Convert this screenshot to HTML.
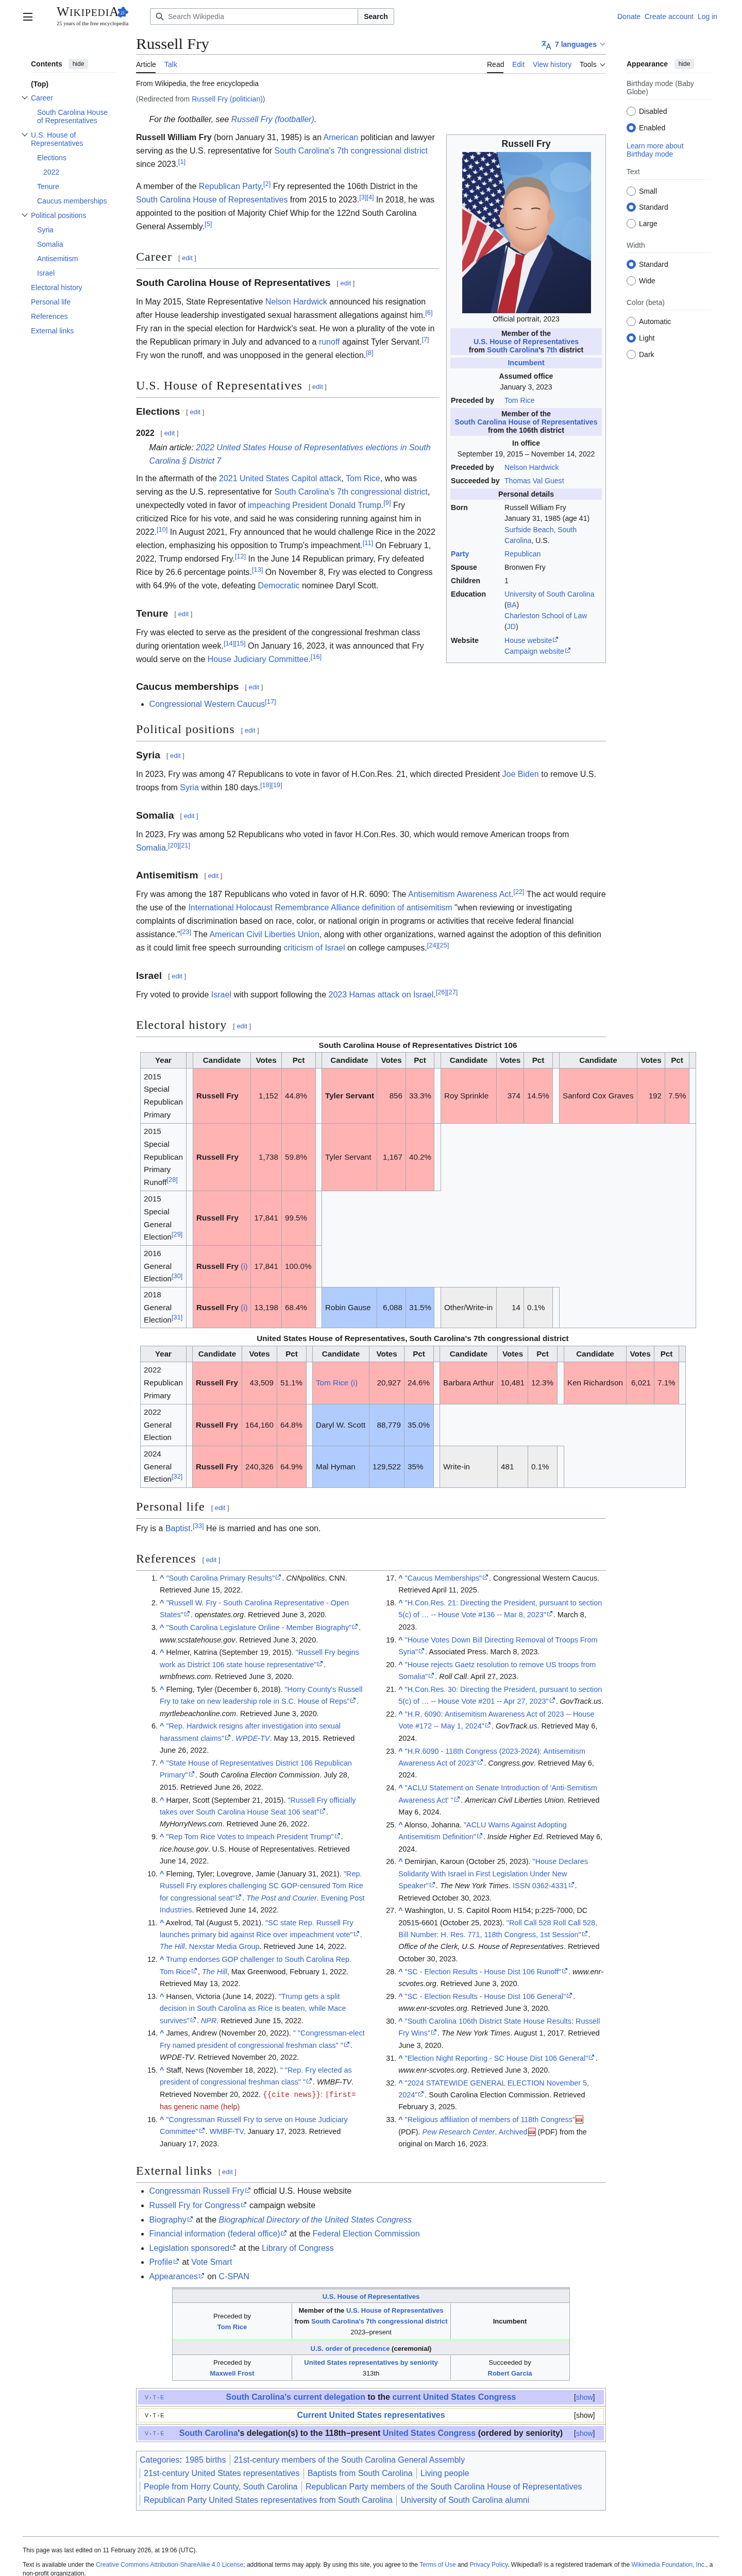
<!DOCTYPE html>
<html lang="en">
<head>
<meta charset="utf-8">
<title>Russell Fry - Wikipedia</title>
<style>
*{box-sizing:border-box}
html,body{margin:0;padding:0;background:#fff;height:5149px;overflow:hidden}
body{will-change:transform;font-family:"Liberation Sans",sans-serif;color:#202122;width:1440px;height:5149px;position:relative;overflow:hidden}
a{color:#3366cc;text-decoration:none}
.A{position:absolute;white-space:nowrap}
/* header */
#burger i{position:absolute;left:45px;width:18px;height:2px;background:#202122}
.wm{position:absolute;left:110px;top:8px;font-family:"Liberation Serif",serif;color:#202122;letter-spacing:0.85px;white-space:nowrap;line-height:30px}
.wm .big{font-size:25.6px}
.wm .sm{font-size:19.7px}
.tag{position:absolute;left:110px;top:40px;font-family:"Liberation Serif",serif;font-size:10.5px;color:#202122}
#search{position:absolute;left:291px;top:16px;width:404px;height:32px;border:1px solid #a2a9b1;border-radius:2px 0 0 2px;background:#fff}
#search span{position:absolute;left:34px;top:7px;font-size:14px;color:#72777d}
#search svg{position:absolute;left:10px;top:7px}
#sbtn{position:absolute;left:694px;top:16px;width:71px;height:32px;border:1px solid #a2a9b1;border-radius:0 2px 2px 0;font-weight:bold;font-size:14px;text-align:center;line-height:30px;color:#202122;background:#f8f9fa}
.u{position:absolute;top:24px;font-size:14px;white-space:nowrap}
/* toc */
.toc{position:absolute;font-size:14px;line-height:16px;white-space:nowrap}
.chev{position:absolute;width:8px;height:8px;border-right:1.6px solid #202122;border-bottom:1.6px solid #202122;transform:rotate(45deg)}
.hidebtn{position:absolute;height:20px;background:#eaecf0;border-radius:2px;font-size:12px;line-height:20px;text-align:center;color:#202122}
.sep{position:absolute;height:1px;background:#eaecf0}
.radio{position:absolute;width:18px;height:18px;border-radius:50%;border:1px solid #72777d;background:#fff}
.radio.on{border:5px solid #3366cc}
/* main */
h1{font-family:"Liberation Serif",serif;font-weight:normal;font-size:29.5px;margin:0;position:absolute;left:264px;top:67px;line-height:37px;white-space:nowrap;transform:scaleX(1.05);transform-origin:0 0}
.hl{position:absolute;height:1px;background:#a2a9b1}
.tab{position:absolute;font-size:14px;white-space:nowrap;top:117px}
#content{position:absolute;left:264px;top:150px;width:912px;font-size:16px;line-height:26px}
#content p{margin:7.4px 0 16.6px}
h2{font-family:"Liberation Serif",serif;font-weight:normal;font-size:24px;line-height:33px;margin:6.8px 0 3.2px;border-bottom:1px solid #a2a9b1;padding:12.25px 0 4.2px;overflow:hidden}
h3{font-size:19.2px;font-weight:bold;line-height:30.72px;margin:3.2px 0 0;padding-top:8.9px;overflow:hidden}
h4{font-size:16px;font-weight:bold;line-height:26px;margin:4.45px 0 0;padding-top:8px;overflow:hidden}
.ed{font-size:12.8px;font-weight:normal;font-family:"Liberation Sans",sans-serif;color:#54595d;margin-left:12px;vertical-align:1px;letter-spacing:0}
h2{letter-spacing:1px}
sup{font-size:12.8px;line-height:1;vertical-align:super}
.hat{font-style:italic;padding-left:25.6px;margin:3.6px 0 8px;line-height:26px}
#infobox{float:right;position:relative;width:310px;height:1026px;border:1px solid #a2a9b1;background:#f8f9fa;margin:8px 0 16px 14px;font-size:14.08px;line-height:16px}
.ib{position:absolute;white-space:nowrap;line-height:16px}
.ib.c{left:0;right:0;text-align:center}
.ib.b{font-weight:bold}
.ibh{position:absolute;left:7px;right:7px;background:#e6e6fa}
.ext{display:inline-block;width:10px;height:10px;margin-left:2px;vertical-align:-1px;background:none;position:relative}
.ext::before{content:"";position:absolute;left:0;top:2px;width:6px;height:6px;border:1px solid #3366cc;border-top-color:transparent;border-right-color:transparent}
.ext::after{content:"";position:absolute;left:4px;top:0;width:6px;height:6px;border-top:1px solid #3366cc;border-right:1px solid #3366cc}
ul.bul{margin:3.5px 0 0 0;padding-left:25.6px;list-style:disc}
#elect{position:absolute;left:-264px;top:-150px;width:0;height:0}
.tc{position:absolute;box-sizing:border-box;font-size:15.2px;line-height:24.7px}
.tcin{position:absolute;left:0;right:0;top:0;bottom:0;display:flex;align-items:center;white-space:nowrap}
.tcin.b{font-weight:bold}
.tcap{position:absolute;text-align:center;font-weight:bold;font-size:15.2px;line-height:24px;white-space:nowrap}
#content2{position:absolute;left:264px;top:2896px;width:912px;font-size:16px;line-height:26px}
#content2 p{margin:7.4px 0 16.6px}
ol.refs{font-size:14.4px;line-height:23.4px;margin:2.8px 0 10.2px 46px;padding:0;column-count:2;column-gap:14.4px;margin-left:0;padding-left:0}
ol.refs li{margin:0 0 1.35px 46px;break-inside:avoid-column}
i.x{display:inline-block;width:13px;height:10px;position:relative;vertical-align:0px;margin-left:1px}
i.x::before{content:"";position:absolute;left:2px;top:1px;width:8px;height:8px;border-left:1.2px solid #3366cc;border-bottom:1.2px solid #3366cc;border-top:1.2px solid #3366cc;border-right:1.2px solid transparent;box-sizing:border-box;clip-path:polygon(0 0,45% 0,45% 30%,0 30%,0 100%,100% 100%,100% 55%,70% 55%,70% 100%,0 100%)}
i.x::after{content:"";position:absolute;left:6px;top:0px;width:6px;height:6px;border-top:1.2px solid #3366cc;border-right:1.2px solid #3366cc;box-sizing:border-box;background:linear-gradient(135deg,transparent 45%,#3366cc 45%,#3366cc 60%,transparent 60%)}
i.pdf{display:inline-block;width:15px;height:16px;vertical-align:-3px;margin-left:1px;background:#fff;border:1.5px solid #b32424;position:relative}
i.pdf::after{content:"PDF";position:absolute;left:0;top:5px;width:12px;height:6px;background:#c33;color:#fff;font-size:5px;line-height:6px;font-style:normal;font-weight:bold;text-align:center}
.cserr{color:#b32424}
.cserr code{font-family:"Liberation Mono",monospace;font-size:14.4px;color:#b32424}
ul.bul.extl{margin-top:3.1px}
ul.bul li{margin-bottom:1.6px}
.lw{padding-right:14px;position:relative;white-space:nowrap}
svg.xi{position:absolute;right:1px;bottom:4px}
.sbox{position:absolute;border:1px solid #a2a9b1;border-top:0;background:#f8f9fa;font-size:13px;line-height:21px}
.sbox .A{position:absolute}
.sc{position:absolute;text-align:center;white-space:nowrap;line-height:21px;font-size:13px}
.vte{position:absolute;font-size:10.5px;line-height:14px;letter-spacing:0}
.vte b{font-weight:normal;font-size:7px;margin:0 3px;vertical-align:1px}
.nvtt{position:absolute;left:268px;width:904px;text-align:center;font-weight:bold;font-size:16px;line-height:20px;white-space:nowrap}
.show{position:absolute;left:1114px;font-size:14px;line-height:18px}
.cat{position:absolute;left:270px;font-size:16px;line-height:20px;white-space:nowrap}
.cat .cs{display:inline-block;width:1px;height:20px;background:#a2a9b1;vertical-align:-5px;margin:0 8px 0 9px}
.cat .cs.first{margin-left:-7px}
.ft{position:absolute;left:44px;font-size:12px;line-height:19px;white-space:nowrap;color:#202122}
.ft.lk a{margin-right:12px}
.badge{position:absolute;border:1px solid #a2a9b1;border-radius:2px;background:#f8f9fa}
.badge .A{position:absolute;white-space:nowrap}
.catbox{position:absolute;left:265px;top:4762px;width:910px;padding:0 6px;font-size:16px;line-height:26px}
.ci{display:inline-block;padding:0 7.5px 0 7px;border-left:1px solid #a2a9b1;line-height:20px;white-space:nowrap;margin:3px 0 3px 0}
.ci.f{border-left:0;padding-left:2px}
</style>
</head>
<body>
<div id="burger"><i style="top:25px"></i><i style="top:31.5px"></i><i style="top:38px"></i></div>
<div class="wm"><span class="big">W</span><span class="sm">IKIPEDI</span><span class="big">A</span></div>
<svg class="A" style="left:228px;top:13px" width="21" height="21" viewBox="0 0 21 21"><g fill="#2e62d0"><rect x="1" y="4" width="15" height="15"/><circle cx="11" cy="3.5" r="3.2"/><circle cx="17.5" cy="10.5" r="3.2"/><circle cx="6" cy="19" r="2.2"/></g><circle cx="1" cy="11" r="2.5" fill="#fff"/><text x="9.5" y="15" font-size="7.5" fill="#fff" text-anchor="middle" font-family="Liberation Serif" font-style="italic">25</text></svg>
<div class="tag">25 years of the free encyclopedia</div>
<div id="search"><svg width="16" height="16" viewBox="0 0 16 16"><circle cx="6.5" cy="6.5" r="5" fill="none" stroke="#54595d" stroke-width="1.8"/><path d="M10.2 10.2l4.8 4.8" stroke="#54595d" stroke-width="1.8"/></svg><span>Search Wikipedia</span></div>
<div id="sbtn">Search</div>
<a class="u" style="left:1198px">Donate</a><a class="u" style="left:1251px">Create account</a><a class="u" style="left:1354px">Log in</a>
<div class="toc" style="left:60px;top:116px;font-weight:bold;font-size:14px">Contents</div>
<div class="toc" style="left:60px;top:155px;font-weight:bold">(Top)</div>
<a class="toc" style="left:60px;top:182px">Career</a>
<a class="toc" style="left:72px;top:210px">South Carolina House<br>of Representatives</a>
<a class="toc" style="left:60px;top:254px">U.S. House of<br>Representatives</a>
<a class="toc" style="left:72px;top:298px">Elections</a>
<a class="toc" style="left:84px;top:326px">2022</a>
<a class="toc" style="left:72px;top:354px">Tenure</a>
<a class="toc" style="left:72px;top:382px">Caucus memberships</a>
<a class="toc" style="left:60px;top:410px">Political positions</a>
<a class="toc" style="left:72px;top:438px">Syria</a>
<a class="toc" style="left:72px;top:466px">Somalia</a>
<a class="toc" style="left:72px;top:494px">Antisemitism</a>
<a class="toc" style="left:72px;top:522px">Israel</a>
<a class="toc" style="left:60px;top:550px">Electoral history</a>
<a class="toc" style="left:60px;top:578px">Personal life</a>
<a class="toc" style="left:60px;top:606px">References</a>
<a class="toc" style="left:60px;top:634px">External links</a>
<div class="hidebtn" style="left:133px;top:114px;width:38px">hide</div>
<div class="sep" style="left:60px;top:140px;width:164px"></div>
<i class="chev" style="left:44px;top:183px"></i>
<i class="chev" style="left:44px;top:255px"></i>
<i class="chev" style="left:44px;top:411px"></i>
<div class="toc" style="left:1216px;top:116px;font-weight:bold">Appearance</div>
<div class="toc" style="left:1216px;top:154px;color:#54595d">Birthday mode (Baby<br>Globe)</div>
<div class="toc" style="left:1240px;top:208px">Disabled</div>
<div class="toc" style="left:1240px;top:240px">Enabled</div>
<a class="toc" style="left:1216px;top:275px">Learn more about<br>Birthday mode</a>
<div class="toc" style="left:1216px;top:325px;color:#54595d">Text</div>
<div class="toc" style="left:1240px;top:363px">Small</div>
<div class="toc" style="left:1240px;top:394px">Standard</div>
<div class="toc" style="left:1240px;top:426px">Large</div>
<div class="toc" style="left:1216px;top:468px;color:#54595d">Width</div>
<div class="toc" style="left:1240px;top:505px">Standard</div>
<div class="toc" style="left:1240px;top:537px">Wide</div>
<div class="toc" style="left:1216px;top:579px;color:#54595d">Color (beta)</div>
<div class="toc" style="left:1240px;top:616px">Automatic</div>
<div class="toc" style="left:1240px;top:648px">Light</div>
<div class="toc" style="left:1240px;top:680px">Dark</div>
<div class="hidebtn" style="left:1309px;top:114px;width:38px">hide</div>
<div class="sep" style="left:1216px;top:141px;width:164px"></div>
<div class="sep" style="left:1216px;top:192px;width:164px"></div>
<div class="sep" style="left:1216px;top:348px;width:164px"></div>
<div class="sep" style="left:1216px;top:490px;width:164px"></div>
<div class="sep" style="left:1216px;top:601px;width:164px"></div>
<i class="radio" style="left:1216px;top:207px"></i>
<i class="radio on" style="left:1216px;top:239px"></i>
<i class="radio" style="left:1216px;top:362px"></i>
<i class="radio on" style="left:1216px;top:393px"></i>
<i class="radio" style="left:1216px;top:425px"></i>
<i class="radio on" style="left:1216px;top:504px"></i>
<i class="radio" style="left:1216px;top:536px"></i>
<i class="radio" style="left:1216px;top:615px"></i>
<i class="radio on" style="left:1216px;top:647px"></i>
<i class="radio" style="left:1216px;top:679px"></i>
<h1>Russell Fry</h1>
<div class="hl" style="left:264px;top:105px;width:912px"></div>
<svg class="A" style="left:1050px;top:77px" width="20" height="20" viewBox="0 0 20 20"><g fill="none" stroke="#3366cc" stroke-width="1.6"><path d="M1 4h9M5.5 2v2M8 4c-1 4-3 6-6 8M4 7c1 2 3 4 5 5"/><path d="M10 19l4.5-11 4.5 11M11.6 15h5.8"/></g></svg>
<div class="A" style="left:1077px;top:78px;font-size:14px;font-weight:bold;color:#3366cc">7 languages</div>
<i class="chev" style="left:1166px;top:80px;width:7px;height:7px;border-color:#3366cc;border-width:0 1.5px 1.5px 0"></i>
<div class="tab" style="left:264px">Article</div>
<a class="tab" style="left:319px">Talk</a>
<div class="tab" style="left:945px">Read</div>
<a class="tab" style="left:994px">Edit</a>
<a class="tab" style="left:1034px">View history</a>
<div class="tab" style="left:1125px">Tools</div>
<i class="chev" style="left:1166px;top:120px;width:7px;height:7px;border-width:0 1.5px 1.5px 0"></i>
<div class="hl" style="left:264px;top:142px;width:912px;background:#c8ccd1"></div>
<div class="A" style="left:264px;top:140px;width:38px;height:2px;background:#202122"></div>
<div class="A" style="left:945px;top:140px;width:32px;height:2px;background:#202122"></div>
<div id="content">
<div class="sitesub" style="font-size:14px;line-height:22px;margin-top:1px">From Wikipedia, the free encyclopedia</div>
<div style="font-size:14px;line-height:22px;margin-top:8px;color:#54595d">(Redirected from <a>Russell Fry (politician)</a>)</div>
<div class="hat" style="margin-top:16px;line-height:26px">For the footballer, see <a>Russell Fry (footballer)</a>.</div>
<div id="infobox">
<div class="ib c" style="top:9.0px;font-size:17.6px;font-weight:bold;top:7px;line-height:20px">Russell Fry</div>
<svg style="position:absolute;left:30px;top:33px" width="250" height="313" viewBox="18 14 690 866" preserveAspectRatio="none">
<defs>
<radialGradient id="bg1" cx="0.62" cy="0.4" r="0.75"><stop offset="0" stop-color="#8ec0ea"/><stop offset="0.55" stop-color="#6ea5dc"/><stop offset="1" stop-color="#4a80c4"/></radialGradient>
<radialGradient id="skin" cx="0.5" cy="0.45" r="0.6"><stop offset="0" stop-color="#f4cdb8"/><stop offset="0.7" stop-color="#e8b298"/><stop offset="1" stop-color="#cf9078"/></radialGradient>
<linearGradient id="suitg" x1="0" y1="0" x2="1" y2="1"><stop offset="0" stop-color="#26325c"/><stop offset="1" stop-color="#171e3c"/></linearGradient>
<pattern id="stars" width="58" height="52" patternUnits="userSpaceOnUse" patternTransform="translate(4 10) rotate(10)"><path d="M15 3l4 11.5h12l-9.8 7.3 3.7 11.7-9.9-7.2-9.9 7.2 3.7-11.7-9.8-7.3h12z" fill="#f2f2f6"/><path d="M44 29l4 11.5h12l-9.8 7.3 3.7 11.7-9.9-7.2-9.9 7.2 3.7-11.7-9.8-7.3h12z" fill="#f2f2f6"/></pattern>
</defs>
<rect x="18" y="14" width="690" height="866" fill="url(#bg1)"/>
<ellipse cx="600" cy="150" rx="110" ry="80" fill="#9ccaf0" opacity="0.45"/>
<ellipse cx="640" cy="480" rx="90" ry="120" fill="#8cbce8" opacity="0.4"/>
<ellipse cx="330" cy="80" rx="120" ry="60" fill="#5e92d0" opacity="0.45"/>
<!-- flag stripes area -->
<polygon points="18,280 200,420 262,490 275,540 150,600 18,760" fill="#eee8ec"/>
<g fill="#c43a42">
<polygon points="18,320 70,350 40,480 18,520"/>
<polygon points="100,380 150,410 80,600 18,660 18,600"/>
<polygon points="190,430 240,470 150,560 90,610 120,540"/>
<polygon points="18,700 60,650 40,720 18,750"/>
</g>
<!-- canton -->
<polygon points="18,14 205,14 248,230 242,415 190,432 18,300" fill="#1f2b63"/>
<polygon points="18,14 205,14 248,230 242,415 190,432 18,300" fill="url(#stars)"/>
<!-- suit -->
<polygon points="18,690 120,580 268,495 330,560 420,520 478,458 560,520 708,600 708,880 18,880" fill="url(#suitg)"/>
<!-- shirt -->
<polygon points="252,515 300,548 350,572 425,505 472,468 445,560 385,640 305,880 195,880 232,640" fill="#eef0f4"/>
<!-- tie -->
<polygon points="305,560 352,572 340,615 300,880 205,880 255,700 300,615" fill="#b52a33"/>
<!-- lapels -->
<polygon points="268,495 205,880 170,880 230,600" fill="#2d3a6a"/>
<polygon points="478,458 385,640 305,880 365,880 505,560" fill="#2c3868"/>
<!-- neck & head -->
<polygon points="278,450 462,440 470,482 425,522 352,566 275,522" fill="#ddaa92"/>
<ellipse cx="365" cy="350" rx="128" ry="195" fill="url(#skin)"/>
<ellipse cx="238" cy="358" rx="20" ry="42" fill="#dea48c"/>
<ellipse cx="493" cy="358" rx="20" ry="42" fill="#d69e86"/>
<path d="M240 300 C238 200 290 148 365 148 C445 148 492 200 490 300 C478 240 445 205 365 200 C285 205 252 240 240 300z" fill="#9a8878"/>
<path d="M292 322 q22 -10 45 0" stroke="#5b4036" stroke-width="6" fill="none"/>
<path d="M388 320 q25 -10 48 2" stroke="#5b4036" stroke-width="6" fill="none"/>
<path d="M305 418 q58 28 110 0 q-52 26 -110 0z" fill="#fff" stroke="#a0584e" stroke-width="4"/>
</svg>

<div class="ib c" style="top:349.0px;">Official portrait, 2023</div>
<div class="ibh" style="top:374.5px;height:52.5px"></div>
<div class="ib c" style="top:376.7px;font-weight:bold">Member of the</div>
<div class="ib c" style="top:392.7px;font-weight:bold"><a>U.S. House of Representatives</a></div>
<div class="ib c" style="top:409.0px;font-weight:bold">from <a>South Carolina</a>'s <a>7th</a> district</div>
<div class="ibh" style="top:432.0px;height:20.7px"></div>
<div class="ib c" style="top:434.0px;font-weight:bold"><a>Incumbent</a></div>
<div class="ib c" style="top:460.0px;font-weight:bold">Assumed office</div>
<div class="ib c" style="top:480.5px;">January 3, 2023</div>
<div class="ib b" style="left:8px;top:506.5px;">Preceded by</div>
<div class="ib" style="left:112px;top:506.5px;"><a>Tom Rice</a></div>
<div class="ibh" style="top:530.0px;height:54.0px"></div>
<div class="ib c" style="top:532.7px;font-weight:bold">Member of the</div>
<div class="ib c" style="top:548.7px;font-weight:bold"><a>South Carolina House of Representatives</a></div>
<div class="ib c" style="top:564.7px;font-weight:bold">from the 106th district</div>
<div class="ib c" style="top:589.6px;font-weight:bold">In office</div>
<div class="ib c" style="top:611.0px;">September 19, 2015 – November 14, 2022</div>
<div class="ib b" style="left:8px;top:636.7px;">Preceded by</div>
<div class="ib" style="left:112px;top:636.7px;"><a>Nelson Hardwick</a></div>
<div class="ib b" style="left:8px;top:663.0px;">Succeeded by</div>
<div class="ib" style="left:112px;top:663.0px;"><a>Thomas Val Guest</a></div>
<div class="ibh" style="top:686.0px;height:22.0px"></div>
<div class="ib c" style="top:689.0px;font-weight:bold">Personal details</div>
<div class="ib b" style="left:8px;top:715.0px;">Born</div>
<div class="ib" style="left:112px;top:715.0px;">Russell William Fry</div>
<div class="ib" style="left:112px;top:736.0px;">January 31, 1985 (age&nbsp;41)</div>
<div class="ib" style="left:112px;top:757.6px;"><a>Surfside Beach, South</a></div>
<div class="ib" style="left:112px;top:779.0px;"><a>Carolina</a>, U.S.</div>
<div class="ib b" style="left:8px;top:804.7px;"><a>Party</a></div>
<div class="ib" style="left:112px;top:804.7px;"><a>Republican</a></div>
<div class="ib b" style="left:8px;top:830.9px;">Spouse</div>
<div class="ib" style="left:112px;top:830.9px;">Bronwen Fry</div>
<div class="ib b" style="left:8px;top:856.7px;">Children</div>
<div class="ib" style="left:112px;top:856.7px;">1</div>
<div class="ib b" style="left:8px;top:882.9px;">Education</div>
<div class="ib" style="left:112px;top:882.9px;"><a>University of South Carolina</a></div>
<div class="ib" style="left:112px;top:903.8px;">(<a>BA</a>)</div>
<div class="ib" style="left:112px;top:924.7px;"><a>Charleston School of Law</a></div>
<div class="ib" style="left:112px;top:946.4px;">(<a>JD</a>)</div>
<div class="ib b" style="left:8px;top:972.7px;">Website</div>
<div class="ib" style="left:112px;top:972.7px;"><a>House <span class="lw">website<svg class="xi" width="12" height="12" viewBox="0 0 12 12"><path fill="#3366cc" d="M6 1h5v5L8.86 3.85 4.7 8 4 7.3l4.15-4.16zM2 3h2v1H2v6h6V8h1v2a1 1 0 0 1-1 1H2a1 1 0 0 1-1-1V4a1 1 0 0 1 1-1"/></svg></span></a></div>
<div class="ib" style="left:112px;top:993.8px;"><a>Campaign <span class="lw">website<svg class="xi" width="12" height="12" viewBox="0 0 12 12"><path fill="#3366cc" d="M6 1h5v5L8.86 3.85 4.7 8 4 7.3l4.15-4.16zM2 3h2v1H2v6h6V8h1v2a1 1 0 0 1-1 1H2a1 1 0 0 1-1-1V4a1 1 0 0 1 1-1"/></svg></span></a></div>
</div>
<p style="margin-top:9.3px"><b>Russell William Fry</b> (born January 31, 1985) is an <a>American</a> politician and lawyer serving as the U.S. representative for <a>South Carolina's 7th congressional district</a> since 2023.&#8288;<sup><a>[1]</a></sup></p>
<p>A member of the <a>Republican Party</a>,&#8288;<sup><a>[2]</a></sup> Fry represented the 106th District in the <a>South Carolina House of Representatives</a> from 2015 to 2023.&#8288;<sup><a>[3]</a><a>[4]</a></sup> In 2018, he was appointed to the position of Majority Chief Whip for the 122nd South Carolina General Assembly.&#8288;<sup><a>[5]</a></sup></p>
<h2>Career<span class="ed">[ <a>edit</a> ]</span></h2>
<h3>South Carolina House of Representatives<span class="ed">[ <a>edit</a> ]</span></h3>
<p>In May 2015, State Representative <a>Nelson Hardwick</a> announced his resignation after House leadership investigated sexual harassment allegations against him.&#8288;<sup><a>[6]</a></sup> Fry ran in the special election for Hardwick's seat. He won a plurality of the vote in the Republican primary in July and advanced to a <a>runoff</a> against Tyler Servant.&#8288;<sup><a>[7]</a></sup> Fry won the runoff, and was unopposed in the general election.&#8288;<sup><a>[8]</a></sup></p>
<h2>U.S. House of Representatives<span class="ed">[ <a>edit</a> ]</span></h2>
<h3>Elections<span class="ed">[ <a>edit</a> ]</span></h3>
<h4>2022<span class="ed">[ <a>edit</a> ]</span></h4>
<div class="hat" style="margin-top:2px">Main article: <a>2022 United States House of Representatives elections in South Carolina § District 7</a></div>
<p>In the aftermath of the <a>2021 United States Capitol attack</a>, <a>Tom Rice</a>, who was serving as the U.S. representative for <a>South Carolina's 7th congressional district</a>, unexpectedly voted in favor of <a>impeaching President Donald Trump</a>.&#8288;<sup><a>[9]</a></sup> Fry criticized Rice for his vote, and said he was considering running against him in 2022.&#8288;<sup><a>[10]</a></sup> In August 2021, Fry announced that he would challenge Rice in the 2022 election, emphasizing his opposition to Trump's impeachment.&#8288;<sup><a>[11]</a></sup> On February 1, 2022, Trump endorsed Fry.&#8288;<sup><a>[12]</a></sup> In the June 14 Republican primary, Fry defeated Rice by 26.6 percentage points.&#8288;<sup><a>[13]</a></sup> On November 8, Fry was elected to Congress with 64.9% of the vote, defeating <a>Democratic</a> nominee Daryl Scott.</p>
<h3>Tenure<span class="ed">[ <a>edit</a> ]</span></h3>
<p>Fry was elected to serve as the president of the congressional freshman class during orientation week.&#8288;<sup><a>[14]</a><a>[15]</a></sup> On January 16, 2023, it was announced that Fry would serve on the <a>House Judiciary Committee</a>.&#8288;<sup><a>[16]</a></sup></p>
<h3>Caucus memberships<span class="ed">[ <a>edit</a> ]</span></h3>
<ul class="bul"><li><a>Congressional Western Caucus</a>&#8288;<sup><a>[17]</a></sup></li></ul>
<h2 style="clear:both">Political positions<span class="ed">[ <a>edit</a> ]</span></h2>
<h3>Syria<span class="ed">[ <a>edit</a> ]</span></h3>
<p>In 2023, Fry was among 47 Republicans to vote in favor of H.Con.Res. 21, which directed President <a>Joe Biden</a> to remove U.S. troops from <a>Syria</a> within 180 days.&#8288;<sup><a>[18]</a><a>[19]</a></sup></p>
<h3>Somalia<span class="ed">[ <a>edit</a> ]</span></h3>
<p>In 2023, Fry was among 52 Republicans who voted in favor H.Con.Res. 30, which would remove American troops from <a>Somalia</a>.&#8288;<sup><a>[20]</a><a>[21]</a></sup></p>
<h3>Antisemitism<span class="ed">[ <a>edit</a> ]</span></h3>
<p>Fry was among the 187 Republicans who voted in favor of H.R. 6090: The <a>Antisemitism Awareness Act</a>.&#8288;<sup><a>[22]</a></sup> The act would require the use of the <a>International Holocaust Remembrance Alliance definition of antisemitism</a> "when reviewing or investigating complaints of discrimination based on race, color, or national origin in programs or activities that receive federal financial assistance."&#8288;<sup><a>[23]</a></sup> The <a>American Civil Liberties Union</a>, along with other organizations, warned against the adoption of this definition as it could limit free speech surrounding <a>criticism of Israel</a> on college campuses.&#8288;<sup><a>[24]</a><a>[25]</a></sup></p>
<h3>Israel<span class="ed">[ <a>edit</a> ]</span></h3>
<p>Fry voted to provide <a>Israel</a> with support following the <a>2023 Hamas attack on Israel</a>.&#8288;<sup><a>[26]</a><a>[27]</a></sup></p>
<h2>Electoral history<span class="ed">[ <a>edit</a> ]</span></h2>
<div id="elect">
<div class="tcap" style="left:272px;width:1078px;top:2017px">South Carolina House of Representatives District 106</div>
<div class="tc" style="left:855px;top:2180px;width:496px;height:132px;background:#f8f9fa;"></div>
<div class="tc" style="left:624px;top:2311px;width:727px;height:188px;background:#f8f9fa;"></div>
<div class="tc" style="left:1085px;top:2498px;width:266px;height:80px;background:#f8f9fa;"></div>
<div class="tc" style="left:272px;top:2042px;width:90px;height:32px;background:#eaecf0;border:1px solid #a2a9b1;"><div class="tcin b" style="justify-content:center;padding:0 6px;"><span>Year</span></div></div>
<div class="tc" style="left:361px;top:2042px;width:14px;height:32px;background:#eaecf0;border:1px solid #a2a9b1;"></div>
<div class="tc" style="left:374px;top:2042px;width:113px;height:32px;background:#eaecf0;border:1px solid #a2a9b1;"><div class="tcin b" style="justify-content:center;padding:0 6px;"><span>Candidate</span></div></div>
<div class="tc" style="left:486px;top:2042px;width:61px;height:32px;background:#eaecf0;border:1px solid #a2a9b1;"><div class="tcin b" style="justify-content:center;padding:0 6px;"><span>Votes</span></div></div>
<div class="tc" style="left:546px;top:2042px;width:67px;height:32px;background:#eaecf0;border:1px solid #a2a9b1;"><div class="tcin b" style="justify-content:center;padding:0 6px;"><span>Pct</span></div></div>
<div class="tc" style="left:612px;top:2042px;width:13px;height:32px;background:#eaecf0;border:1px solid #a2a9b1;"></div>
<div class="tc" style="left:624px;top:2042px;width:108px;height:32px;background:#eaecf0;border:1px solid #a2a9b1;"><div class="tcin b" style="justify-content:center;padding:0 6px;"><span>Candidate</span></div></div>
<div class="tc" style="left:731px;top:2042px;width:57px;height:32px;background:#eaecf0;border:1px solid #a2a9b1;"><div class="tcin b" style="justify-content:center;padding:0 6px;"><span>Votes</span></div></div>
<div class="tc" style="left:787px;top:2042px;width:56px;height:32px;background:#eaecf0;border:1px solid #a2a9b1;"><div class="tcin b" style="justify-content:center;padding:0 6px;"><span>Pct</span></div></div>
<div class="tc" style="left:842px;top:2042px;width:14px;height:32px;background:#eaecf0;border:1px solid #a2a9b1;"></div>
<div class="tc" style="left:855px;top:2042px;width:109px;height:32px;background:#eaecf0;border:1px solid #a2a9b1;"><div class="tcin b" style="justify-content:center;padding:0 6px;"><span>Candidate</span></div></div>
<div class="tc" style="left:963px;top:2042px;width:54px;height:32px;background:#eaecf0;border:1px solid #a2a9b1;"><div class="tcin b" style="justify-content:center;padding:0 6px;"><span>Votes</span></div></div>
<div class="tc" style="left:1016px;top:2042px;width:57px;height:32px;background:#eaecf0;border:1px solid #a2a9b1;"><div class="tcin b" style="justify-content:center;padding:0 6px;"><span>Pct</span></div></div>
<div class="tc" style="left:1072px;top:2042px;width:14px;height:32px;background:#eaecf0;border:1px solid #a2a9b1;"></div>
<div class="tc" style="left:1085px;top:2042px;width:152px;height:32px;background:#eaecf0;border:1px solid #a2a9b1;"><div class="tcin b" style="justify-content:center;padding:0 6px;"><span>Candidate</span></div></div>
<div class="tc" style="left:1236px;top:2042px;width:55px;height:32px;background:#eaecf0;border:1px solid #a2a9b1;"><div class="tcin b" style="justify-content:center;padding:0 6px;"><span>Votes</span></div></div>
<div class="tc" style="left:1290px;top:2042px;width:48px;height:32px;background:#eaecf0;border:1px solid #a2a9b1;"><div class="tcin b" style="justify-content:center;padding:0 6px;"><span>Pct</span></div></div>
<div class="tc" style="left:1337px;top:2042px;width:14px;height:32px;background:#eaecf0;border:1px solid #a2a9b1;"></div>
<div class="tc" style="left:272px;top:2073px;width:90px;height:108px;background:#f8f9fa;border:1px solid #a2a9b1;"><div class="tcin" style="padding:0 6px;"><span><div style="line-height:24.7px;white-space:normal">2015<br>Special<br>Republican<br>Primary</div></span></div></div>
<div class="tc" style="left:361px;top:2073px;width:14px;height:108px;background:#f8f9fa;border:1px solid #a2a9b1;"></div>
<div class="tc" style="left:374px;top:2073px;width:113px;height:108px;background:#ffb3b3;border:1px solid #a2a9b1;"><div class="tcin b" style="padding:0 6px;"><span>Russell Fry</span></div></div>
<div class="tc" style="left:486px;top:2073px;width:61px;height:108px;background:#ffb3b3;border:1px solid #a2a9b1;"><div class="tcin" style="justify-content:flex-end;padding:0 6px;"><span>1,152</span></div></div>
<div class="tc" style="left:546px;top:2073px;width:67px;height:108px;background:#ffb3b3;border:1px solid #a2a9b1;"><div class="tcin" style="padding:0 6px;"><span>44.8%</span></div></div>
<div class="tc" style="left:612px;top:2073px;width:13px;height:108px;background:#f8f9fa;border:1px solid #a2a9b1;"></div>
<div class="tc" style="left:624px;top:2073px;width:108px;height:108px;background:#ffb3b3;border:1px solid #a2a9b1;"><div class="tcin b" style="padding:0 6px;"><span>Tyler Servant</span></div></div>
<div class="tc" style="left:731px;top:2073px;width:57px;height:108px;background:#ffb3b3;border:1px solid #a2a9b1;"><div class="tcin" style="justify-content:flex-end;padding:0 6px;"><span>856</span></div></div>
<div class="tc" style="left:787px;top:2073px;width:56px;height:108px;background:#ffb3b3;border:1px solid #a2a9b1;"><div class="tcin" style="padding:0 6px;"><span>33.3%</span></div></div>
<div class="tc" style="left:842px;top:2073px;width:14px;height:108px;background:#f8f9fa;border:1px solid #a2a9b1;"></div>
<div class="tc" style="left:855px;top:2073px;width:109px;height:108px;background:#ffb3b3;border:1px solid #a2a9b1;"><div class="tcin" style="padding:0 6px;"><span>Roy Sprinkle</span></div></div>
<div class="tc" style="left:963px;top:2073px;width:54px;height:108px;background:#ffb3b3;border:1px solid #a2a9b1;"><div class="tcin" style="justify-content:flex-end;padding:0 6px;"><span>374</span></div></div>
<div class="tc" style="left:1016px;top:2073px;width:57px;height:108px;background:#ffb3b3;border:1px solid #a2a9b1;"><div class="tcin" style="padding:0 6px;"><span>14.5%</span></div></div>
<div class="tc" style="left:1072px;top:2073px;width:14px;height:108px;background:#f8f9fa;border:1px solid #a2a9b1;"></div>
<div class="tc" style="left:1085px;top:2073px;width:152px;height:108px;background:#ffb3b3;border:1px solid #a2a9b1;"><div class="tcin" style="padding:0 6px;"><span>Sanford Cox Graves</span></div></div>
<div class="tc" style="left:1236px;top:2073px;width:55px;height:108px;background:#ffb3b3;border:1px solid #a2a9b1;"><div class="tcin" style="justify-content:flex-end;padding:0 6px;"><span>192</span></div></div>
<div class="tc" style="left:1290px;top:2073px;width:48px;height:108px;background:#ffb3b3;border:1px solid #a2a9b1;"><div class="tcin" style="padding:0 6px;"><span>7.5%</span></div></div>
<div class="tc" style="left:1337px;top:2073px;width:14px;height:108px;background:#f8f9fa;border:1px solid #a2a9b1;"></div>
<div class="tc" style="left:272px;top:2180px;width:90px;height:132px;background:#f8f9fa;border:1px solid #a2a9b1;"><div class="tcin" style="padding:0 6px;"><span><div style="line-height:24.7px;white-space:normal">2015<br>Special<br>Republican<br>Primary<br>Runoff<sup><a>[28]</a></sup></div></span></div></div>
<div class="tc" style="left:361px;top:2180px;width:14px;height:132px;background:#f8f9fa;border:1px solid #a2a9b1;"></div>
<div class="tc" style="left:374px;top:2180px;width:113px;height:132px;background:#ffb3b3;border:1px solid #a2a9b1;"><div class="tcin b" style="padding:0 6px;"><span>Russell Fry</span></div></div>
<div class="tc" style="left:486px;top:2180px;width:61px;height:132px;background:#ffb3b3;border:1px solid #a2a9b1;"><div class="tcin" style="justify-content:flex-end;padding:0 6px;"><span>1,738</span></div></div>
<div class="tc" style="left:546px;top:2180px;width:67px;height:132px;background:#ffb3b3;border:1px solid #a2a9b1;"><div class="tcin" style="padding:0 6px;"><span>59.8%</span></div></div>
<div class="tc" style="left:612px;top:2180px;width:13px;height:132px;background:#f8f9fa;border:1px solid #a2a9b1;"></div>
<div class="tc" style="left:624px;top:2180px;width:108px;height:132px;background:#ffb3b3;border:1px solid #a2a9b1;"><div class="tcin" style="padding:0 6px;"><span>Tyler Servant</span></div></div>
<div class="tc" style="left:731px;top:2180px;width:57px;height:132px;background:#ffb3b3;border:1px solid #a2a9b1;"><div class="tcin" style="justify-content:flex-end;padding:0 6px;"><span>1,167</span></div></div>
<div class="tc" style="left:787px;top:2180px;width:56px;height:132px;background:#ffb3b3;border:1px solid #a2a9b1;"><div class="tcin" style="padding:0 6px;"><span>40.2%</span></div></div>
<div class="tc" style="left:842px;top:2180px;width:14px;height:132px;background:#f8f9fa;border:1px solid #a2a9b1;"></div>
<div class="tc" style="left:272px;top:2311px;width:90px;height:107px;background:#f8f9fa;border:1px solid #a2a9b1;"><div class="tcin" style="padding:0 6px;"><span><div style="line-height:24.7px;white-space:normal">2015<br>Special<br>General<br>Election<sup><a>[29]</a></sup></div></span></div></div>
<div class="tc" style="left:361px;top:2311px;width:14px;height:107px;background:#f8f9fa;border:1px solid #a2a9b1;"></div>
<div class="tc" style="left:374px;top:2311px;width:113px;height:107px;background:#ffb3b3;border:1px solid #a2a9b1;"><div class="tcin b" style="padding:0 6px;"><span>Russell Fry</span></div></div>
<div class="tc" style="left:486px;top:2311px;width:61px;height:107px;background:#ffb3b3;border:1px solid #a2a9b1;"><div class="tcin" style="justify-content:flex-end;padding:0 6px;"><span>17,841</span></div></div>
<div class="tc" style="left:546px;top:2311px;width:67px;height:107px;background:#ffb3b3;border:1px solid #a2a9b1;"><div class="tcin" style="padding:0 6px;"><span>99.5%</span></div></div>
<div class="tc" style="left:612px;top:2311px;width:13px;height:107px;background:#f8f9fa;border:1px solid #a2a9b1;"></div>
<div class="tc" style="left:272px;top:2417px;width:90px;height:82px;background:#f8f9fa;border:1px solid #a2a9b1;"><div class="tcin" style="padding:0 6px;"><span><div style="line-height:24.7px;white-space:normal">2016<br>General<br>Election<sup><a>[30]</a></sup></div></span></div></div>
<div class="tc" style="left:361px;top:2417px;width:14px;height:82px;background:#f8f9fa;border:1px solid #a2a9b1;"></div>
<div class="tc" style="left:374px;top:2417px;width:113px;height:82px;background:#ffb3b3;border:1px solid #a2a9b1;"><div class="tcin b" style="padding:0 6px;"><span>Russell Fry <a style="font-weight:normal">(i)</a></span></div></div>
<div class="tc" style="left:486px;top:2417px;width:61px;height:82px;background:#ffb3b3;border:1px solid #a2a9b1;"><div class="tcin" style="justify-content:flex-end;padding:0 6px;"><span>17,841</span></div></div>
<div class="tc" style="left:546px;top:2417px;width:67px;height:82px;background:#ffb3b3;border:1px solid #a2a9b1;"><div class="tcin" style="padding:0 6px;"><span>100.0%</span></div></div>
<div class="tc" style="left:612px;top:2417px;width:13px;height:82px;background:#f8f9fa;border:1px solid #a2a9b1;"></div>
<div class="tc" style="left:272px;top:2498px;width:90px;height:80px;background:#f8f9fa;border:1px solid #a2a9b1;"><div class="tcin" style="padding:0 6px;"><span><div style="line-height:24.7px;white-space:normal">2018<br>General<br>Election<sup><a>[31]</a></sup></div></span></div></div>
<div class="tc" style="left:361px;top:2498px;width:14px;height:80px;background:#f8f9fa;border:1px solid #a2a9b1;"></div>
<div class="tc" style="left:374px;top:2498px;width:113px;height:80px;background:#ffb3b3;border:1px solid #a2a9b1;"><div class="tcin b" style="padding:0 6px;"><span>Russell Fry <a style="font-weight:normal">(i)</a></span></div></div>
<div class="tc" style="left:486px;top:2498px;width:61px;height:80px;background:#ffb3b3;border:1px solid #a2a9b1;"><div class="tcin" style="justify-content:flex-end;padding:0 6px;"><span>13,198</span></div></div>
<div class="tc" style="left:546px;top:2498px;width:67px;height:80px;background:#ffb3b3;border:1px solid #a2a9b1;"><div class="tcin" style="padding:0 6px;"><span>68.4%</span></div></div>
<div class="tc" style="left:612px;top:2498px;width:13px;height:80px;background:#f8f9fa;border:1px solid #a2a9b1;"></div>
<div class="tc" style="left:624px;top:2498px;width:108px;height:80px;background:#b0ccff;border:1px solid #a2a9b1;"><div class="tcin" style="padding:0 6px;"><span>Robin Gause</span></div></div>
<div class="tc" style="left:731px;top:2498px;width:57px;height:80px;background:#b0ccff;border:1px solid #a2a9b1;"><div class="tcin" style="justify-content:flex-end;padding:0 6px;"><span>6,088</span></div></div>
<div class="tc" style="left:787px;top:2498px;width:56px;height:80px;background:#b0ccff;border:1px solid #a2a9b1;"><div class="tcin" style="padding:0 6px;"><span>31.5%</span></div></div>
<div class="tc" style="left:842px;top:2498px;width:14px;height:80px;background:#f8f9fa;border:1px solid #a2a9b1;"></div>
<div class="tc" style="left:855px;top:2498px;width:109px;height:80px;background:#eeeeee;border:1px solid #a2a9b1;"><div class="tcin" style="padding:0 6px;"><span>Other/Write-in</span></div></div>
<div class="tc" style="left:963px;top:2498px;width:54px;height:80px;background:#eeeeee;border:1px solid #a2a9b1;"><div class="tcin" style="justify-content:flex-end;padding:0 6px;"><span>14</span></div></div>
<div class="tc" style="left:1016px;top:2498px;width:57px;height:80px;background:#eeeeee;border:1px solid #a2a9b1;"><div class="tcin" style="padding:0 6px;"><span>0.1%</span></div></div>
<div class="tc" style="left:1072px;top:2498px;width:14px;height:80px;background:#f8f9fa;border:1px solid #a2a9b1;"></div>
<div class="tc" style="left:272px;top:2042px;width:1079px;height:536px;border:1px solid #a2a9b1;background:transparent"></div>
<div class="tcap" style="left:272px;width:1058px;top:2586px">United States House of Representatives, South Carolina's 7th congressional district</div>
<div class="tc" style="left:853px;top:2725px;width:478px;height:82px;background:#f8f9fa;"></div>
<div class="tc" style="left:1094px;top:2806px;width:237px;height:82px;background:#f8f9fa;"></div>
<div class="tc" style="left:272px;top:2612px;width:90px;height:32px;background:#eaecf0;border:1px solid #a2a9b1;"><div class="tcin b" style="justify-content:center;padding:0 6px;"><span>Year</span></div></div>
<div class="tc" style="left:361px;top:2612px;width:13px;height:32px;background:#eaecf0;border:1px solid #a2a9b1;"></div>
<div class="tc" style="left:373px;top:2612px;width:97px;height:32px;background:#eaecf0;border:1px solid #a2a9b1;"><div class="tcin b" style="justify-content:center;padding:0 6px;"><span>Candidate</span></div></div>
<div class="tc" style="left:469px;top:2612px;width:69px;height:32px;background:#eaecf0;border:1px solid #a2a9b1;"><div class="tcin b" style="justify-content:center;padding:0 6px;"><span>Votes</span></div></div>
<div class="tc" style="left:537px;top:2612px;width:58px;height:32px;background:#eaecf0;border:1px solid #a2a9b1;"><div class="tcin b" style="justify-content:center;padding:0 6px;"><span>Pct</span></div></div>
<div class="tc" style="left:594px;top:2612px;width:13px;height:32px;background:#eaecf0;border:1px solid #a2a9b1;"></div>
<div class="tc" style="left:606px;top:2612px;width:111px;height:32px;background:#eaecf0;border:1px solid #a2a9b1;"><div class="tcin b" style="justify-content:center;padding:0 6px;"><span>Candidate</span></div></div>
<div class="tc" style="left:716px;top:2612px;width:69px;height:32px;background:#eaecf0;border:1px solid #a2a9b1;"><div class="tcin b" style="justify-content:center;padding:0 6px;"><span>Votes</span></div></div>
<div class="tc" style="left:784px;top:2612px;width:58px;height:32px;background:#eaecf0;border:1px solid #a2a9b1;"><div class="tcin b" style="justify-content:center;padding:0 6px;"><span>Pct</span></div></div>
<div class="tc" style="left:841px;top:2612px;width:13px;height:32px;background:#eaecf0;border:1px solid #a2a9b1;"></div>
<div class="tc" style="left:853px;top:2612px;width:113px;height:32px;background:#eaecf0;border:1px solid #a2a9b1;"><div class="tcin b" style="justify-content:center;padding:0 6px;"><span>Candidate</span></div></div>
<div class="tc" style="left:965px;top:2612px;width:60px;height:32px;background:#eaecf0;border:1px solid #a2a9b1;"><div class="tcin b" style="justify-content:center;padding:0 6px;"><span>Votes</span></div></div>
<div class="tc" style="left:1024px;top:2612px;width:58px;height:32px;background:#eaecf0;border:1px solid #a2a9b1;"><div class="tcin b" style="justify-content:center;padding:0 6px;"><span>Pct</span></div></div>
<div class="tc" style="left:1081px;top:2612px;width:14px;height:32px;background:#eaecf0;border:1px solid #a2a9b1;"></div>
<div class="tc" style="left:1094px;top:2612px;width:122px;height:32px;background:#eaecf0;border:1px solid #a2a9b1;"><div class="tcin b" style="justify-content:center;padding:0 6px;"><span>Candidate</span></div></div>
<div class="tc" style="left:1215px;top:2612px;width:55px;height:32px;background:#eaecf0;border:1px solid #a2a9b1;"><div class="tcin b" style="justify-content:center;padding:0 6px;"><span>Votes</span></div></div>
<div class="tc" style="left:1269px;top:2612px;width:49px;height:32px;background:#eaecf0;border:1px solid #a2a9b1;"><div class="tcin b" style="justify-content:center;padding:0 6px;"><span>Pct</span></div></div>
<div class="tc" style="left:1317px;top:2612px;width:14px;height:32px;background:#eaecf0;border:1px solid #a2a9b1;"></div>
<div class="tc" style="left:272px;top:2643px;width:90px;height:83px;background:#f8f9fa;border:1px solid #a2a9b1;"><div class="tcin" style="padding:0 6px;"><span><div style="line-height:24.7px;white-space:normal">2022<br>Republican<br>Primary</div></span></div></div>
<div class="tc" style="left:361px;top:2643px;width:13px;height:83px;background:#f8f9fa;border:1px solid #a2a9b1;"></div>
<div class="tc" style="left:373px;top:2643px;width:97px;height:83px;background:#ffb3b3;border:1px solid #a2a9b1;"><div class="tcin b" style="padding:0 6px;"><span>Russell Fry</span></div></div>
<div class="tc" style="left:469px;top:2643px;width:69px;height:83px;background:#ffb3b3;border:1px solid #a2a9b1;"><div class="tcin" style="justify-content:flex-end;padding:0 6px;"><span>43,509</span></div></div>
<div class="tc" style="left:537px;top:2643px;width:58px;height:83px;background:#ffb3b3;border:1px solid #a2a9b1;"><div class="tcin" style="padding:0 6px;"><span>51.1%</span></div></div>
<div class="tc" style="left:594px;top:2643px;width:13px;height:83px;background:#f8f9fa;border:1px solid #a2a9b1;"></div>
<div class="tc" style="left:606px;top:2643px;width:111px;height:83px;background:#ffb3b3;border:1px solid #a2a9b1;"><div class="tcin" style="padding:0 6px;"><span><a>Tom Rice</a> <a>(i)</a></span></div></div>
<div class="tc" style="left:716px;top:2643px;width:69px;height:83px;background:#ffb3b3;border:1px solid #a2a9b1;"><div class="tcin" style="justify-content:flex-end;padding:0 6px;"><span>20,927</span></div></div>
<div class="tc" style="left:784px;top:2643px;width:58px;height:83px;background:#ffb3b3;border:1px solid #a2a9b1;"><div class="tcin" style="padding:0 6px;"><span>24.6%</span></div></div>
<div class="tc" style="left:841px;top:2643px;width:13px;height:83px;background:#f8f9fa;border:1px solid #a2a9b1;"></div>
<div class="tc" style="left:853px;top:2643px;width:113px;height:83px;background:#ffb3b3;border:1px solid #a2a9b1;"><div class="tcin" style="padding:0 6px;"><span>Barbara Arthur</span></div></div>
<div class="tc" style="left:965px;top:2643px;width:60px;height:83px;background:#ffb3b3;border:1px solid #a2a9b1;"><div class="tcin" style="justify-content:flex-end;padding:0 6px;"><span>10,481</span></div></div>
<div class="tc" style="left:1024px;top:2643px;width:58px;height:83px;background:#ffb3b3;border:1px solid #a2a9b1;"><div class="tcin" style="padding:0 6px;"><span>12.3%</span></div></div>
<div class="tc" style="left:1081px;top:2643px;width:14px;height:83px;background:#f8f9fa;border:1px solid #a2a9b1;"></div>
<div class="tc" style="left:1094px;top:2643px;width:122px;height:83px;background:#ffb3b3;border:1px solid #a2a9b1;"><div class="tcin" style="padding:0 6px;"><span>Ken Richardson</span></div></div>
<div class="tc" style="left:1215px;top:2643px;width:55px;height:83px;background:#ffb3b3;border:1px solid #a2a9b1;"><div class="tcin" style="justify-content:flex-end;padding:0 6px;"><span>6,021</span></div></div>
<div class="tc" style="left:1269px;top:2643px;width:49px;height:83px;background:#ffb3b3;border:1px solid #a2a9b1;"><div class="tcin" style="padding:0 6px;"><span>7.1%</span></div></div>
<div class="tc" style="left:1317px;top:2643px;width:14px;height:83px;background:#f8f9fa;border:1px solid #a2a9b1;"></div>
<div class="tc" style="left:272px;top:2725px;width:90px;height:82px;background:#f8f9fa;border:1px solid #a2a9b1;"><div class="tcin" style="padding:0 6px;"><span><div style="line-height:24.7px;white-space:normal">2022<br>General<br>Election</div></span></div></div>
<div class="tc" style="left:361px;top:2725px;width:13px;height:82px;background:#f8f9fa;border:1px solid #a2a9b1;"></div>
<div class="tc" style="left:373px;top:2725px;width:97px;height:82px;background:#ffb3b3;border:1px solid #a2a9b1;"><div class="tcin b" style="padding:0 6px;"><span>Russell Fry</span></div></div>
<div class="tc" style="left:469px;top:2725px;width:69px;height:82px;background:#ffb3b3;border:1px solid #a2a9b1;"><div class="tcin" style="justify-content:flex-end;padding:0 6px;"><span>164,160</span></div></div>
<div class="tc" style="left:537px;top:2725px;width:58px;height:82px;background:#ffb3b3;border:1px solid #a2a9b1;"><div class="tcin" style="padding:0 6px;"><span>64.8%</span></div></div>
<div class="tc" style="left:594px;top:2725px;width:13px;height:82px;background:#f8f9fa;border:1px solid #a2a9b1;"></div>
<div class="tc" style="left:606px;top:2725px;width:111px;height:82px;background:#b0ccff;border:1px solid #a2a9b1;"><div class="tcin" style="padding:0 6px;"><span>Daryl W. Scott</span></div></div>
<div class="tc" style="left:716px;top:2725px;width:69px;height:82px;background:#b0ccff;border:1px solid #a2a9b1;"><div class="tcin" style="justify-content:flex-end;padding:0 6px;"><span>88,779</span></div></div>
<div class="tc" style="left:784px;top:2725px;width:58px;height:82px;background:#b0ccff;border:1px solid #a2a9b1;"><div class="tcin" style="padding:0 6px;"><span>35.0%</span></div></div>
<div class="tc" style="left:841px;top:2725px;width:13px;height:82px;background:#f8f9fa;border:1px solid #a2a9b1;"></div>
<div class="tc" style="left:272px;top:2806px;width:90px;height:82px;background:#f8f9fa;border:1px solid #a2a9b1;"><div class="tcin" style="padding:0 6px;"><span><div style="line-height:24.7px;white-space:normal">2024<br>General<br>Election<sup><a>[32]</a></sup></div></span></div></div>
<div class="tc" style="left:361px;top:2806px;width:13px;height:82px;background:#f8f9fa;border:1px solid #a2a9b1;"></div>
<div class="tc" style="left:373px;top:2806px;width:97px;height:82px;background:#ffb3b3;border:1px solid #a2a9b1;"><div class="tcin b" style="padding:0 6px;"><span>Russell Fry</span></div></div>
<div class="tc" style="left:469px;top:2806px;width:69px;height:82px;background:#ffb3b3;border:1px solid #a2a9b1;"><div class="tcin" style="justify-content:flex-end;padding:0 6px;"><span>240,326</span></div></div>
<div class="tc" style="left:537px;top:2806px;width:58px;height:82px;background:#ffb3b3;border:1px solid #a2a9b1;"><div class="tcin" style="padding:0 6px;"><span>64.9%</span></div></div>
<div class="tc" style="left:594px;top:2806px;width:13px;height:82px;background:#f8f9fa;border:1px solid #a2a9b1;"></div>
<div class="tc" style="left:606px;top:2806px;width:111px;height:82px;background:#b0ccff;border:1px solid #a2a9b1;"><div class="tcin" style="padding:0 6px;"><span>Mal Hyman</span></div></div>
<div class="tc" style="left:716px;top:2806px;width:69px;height:82px;background:#b0ccff;border:1px solid #a2a9b1;"><div class="tcin" style="justify-content:flex-end;padding:0 6px;"><span>129,522</span></div></div>
<div class="tc" style="left:784px;top:2806px;width:58px;height:82px;background:#b0ccff;border:1px solid #a2a9b1;"><div class="tcin" style="padding:0 6px;"><span>35%</span></div></div>
<div class="tc" style="left:841px;top:2806px;width:13px;height:82px;background:#f8f9fa;border:1px solid #a2a9b1;"></div>
<div class="tc" style="left:853px;top:2806px;width:113px;height:82px;background:#eeeeee;border:1px solid #a2a9b1;"><div class="tcin" style="padding:0 6px;"><span>Write-in</span></div></div>
<div class="tc" style="left:965px;top:2806px;width:60px;height:82px;background:#eeeeee;border:1px solid #a2a9b1;"><div class="tcin" style="padding:0 6px;"><span>481</span></div></div>
<div class="tc" style="left:1024px;top:2806px;width:58px;height:82px;background:#eeeeee;border:1px solid #a2a9b1;"><div class="tcin" style="padding:0 6px;"><span>0.1%</span></div></div>
<div class="tc" style="left:1081px;top:2806px;width:14px;height:82px;background:#f8f9fa;border:1px solid #a2a9b1;"></div>
<div class="tc" style="left:272px;top:2612px;width:1059px;height:276px;border:1px solid #a2a9b1;background:transparent"></div>
</div>

</div>
<div id="content2">
<h2 style="margin-top:0">Personal life<span class="ed">[ <a>edit</a> ]</span></h2>
<p style="margin-top:5.6px">Fry is a <a>Baptist</a>.&#8288;<sup><a>[33]</a></sup> He is married and has one son.</p>
<h2 style="margin-bottom:0">References<span class="ed">[ <a>edit</a> ]</span></h2>
<ol class="refs">
<li><b><a>^</a></b> <a>"South Carolina Primary <span class="lw">Results"<svg class="xi" width="12" height="12" viewBox="0 0 12 12"><path fill="#3366cc" d="M6 1h5v5L8.86 3.85 4.7 8 4 7.3l4.15-4.16zM2 3h2v1H2v6h6V8h1v2a1 1 0 0 1-1 1H2a1 1 0 0 1-1-1V4a1 1 0 0 1 1-1"/></svg></span></a>. <i>CNNpolitics</i>. CNN. Retrieved June 15, 2022.</li>
<li><b><a>^</a></b> <a>"Russell W. Fry - South Carolina Representative - Open <span class="lw">States"<svg class="xi" width="12" height="12" viewBox="0 0 12 12"><path fill="#3366cc" d="M6 1h5v5L8.86 3.85 4.7 8 4 7.3l4.15-4.16zM2 3h2v1H2v6h6V8h1v2a1 1 0 0 1-1 1H2a1 1 0 0 1-1-1V4a1 1 0 0 1 1-1"/></svg></span></a>. <i>openstates.org</i>. Retrieved June 3, 2020.</li>
<li><b><a>^</a></b> <a>"South Carolina Legislature Online - Member <span class="lw">Biography"<svg class="xi" width="12" height="12" viewBox="0 0 12 12"><path fill="#3366cc" d="M6 1h5v5L8.86 3.85 4.7 8 4 7.3l4.15-4.16zM2 3h2v1H2v6h6V8h1v2a1 1 0 0 1-1 1H2a1 1 0 0 1-1-1V4a1 1 0 0 1 1-1"/></svg></span></a>. <i>www.scstatehouse.gov</i>. Retrieved June 3, 2020.</li>
<li><b><a>^</a></b> Helmer, Katrina (September 19, 2015). <a>"Russell Fry begins work as District 106 state house <span class="lw">representative"<svg class="xi" width="12" height="12" viewBox="0 0 12 12"><path fill="#3366cc" d="M6 1h5v5L8.86 3.85 4.7 8 4 7.3l4.15-4.16zM2 3h2v1H2v6h6V8h1v2a1 1 0 0 1-1 1H2a1 1 0 0 1-1-1V4a1 1 0 0 1 1-1"/></svg></span></a>. <i>wmbfnews.com</i>. Retrieved June 3, 2020.</li>
<li><b><a>^</a></b> Fleming, Tyler (December 6, 2018). <a>"Horry County's Russell Fry to take on new leadership role in S.C. House of <span class="lw">Reps"<svg class="xi" width="12" height="12" viewBox="0 0 12 12"><path fill="#3366cc" d="M6 1h5v5L8.86 3.85 4.7 8 4 7.3l4.15-4.16zM2 3h2v1H2v6h6V8h1v2a1 1 0 0 1-1 1H2a1 1 0 0 1-1-1V4a1 1 0 0 1 1-1"/></svg></span></a>. <i>myrtlebeachonline.com</i>. Retrieved June 3, 2020.</li>
<li><b><a>^</a></b> <a>"Rep. Hardwick resigns after investigation into sexual harassment <span class="lw">claims"<svg class="xi" width="12" height="12" viewBox="0 0 12 12"><path fill="#3366cc" d="M6 1h5v5L8.86 3.85 4.7 8 4 7.3l4.15-4.16zM2 3h2v1H2v6h6V8h1v2a1 1 0 0 1-1 1H2a1 1 0 0 1-1-1V4a1 1 0 0 1 1-1"/></svg></span></a>. <i><a>WPDE-TV</a></i>. May 13, 2015. Retrieved June 26, 2022.</li>
<li><b><a>^</a></b> <a>"State House of Representatives District 106 Republican <span class="lw">Primary"<svg class="xi" width="12" height="12" viewBox="0 0 12 12"><path fill="#3366cc" d="M6 1h5v5L8.86 3.85 4.7 8 4 7.3l4.15-4.16zM2 3h2v1H2v6h6V8h1v2a1 1 0 0 1-1 1H2a1 1 0 0 1-1-1V4a1 1 0 0 1 1-1"/></svg></span></a>. <i>South Carolina Election Commission</i>. July 28, 2015. Retrieved June 26, 2022.</li>
<li><b><a>^</a></b> Harper, Scott (September 21, 2015). <a>"Russell Fry officially takes over South Carolina House Seat 106 <span class="lw">seat"<svg class="xi" width="12" height="12" viewBox="0 0 12 12"><path fill="#3366cc" d="M6 1h5v5L8.86 3.85 4.7 8 4 7.3l4.15-4.16zM2 3h2v1H2v6h6V8h1v2a1 1 0 0 1-1 1H2a1 1 0 0 1-1-1V4a1 1 0 0 1 1-1"/></svg></span></a>. <i>MyHorryNews.com</i>. Retrieved June 26, 2022.</li>
<li><b><a>^</a></b> <a>"Rep Tom Rice Votes to Impeach President <span class="lw">Trump"<svg class="xi" width="12" height="12" viewBox="0 0 12 12"><path fill="#3366cc" d="M6 1h5v5L8.86 3.85 4.7 8 4 7.3l4.15-4.16zM2 3h2v1H2v6h6V8h1v2a1 1 0 0 1-1 1H2a1 1 0 0 1-1-1V4a1 1 0 0 1 1-1"/></svg></span></a>. <i>rice.house.gov</i>. U.S. House of Representatives. Retrieved June 14, 2022.</li>
<li><b><a>^</a></b> Fleming, Tyler; Lovegrove, Jamie (January 31, 2021). <a>"Rep. Russell Fry explores challenging SC GOP-censured Tom Rice for congressional <span class="lw">seat"<svg class="xi" width="12" height="12" viewBox="0 0 12 12"><path fill="#3366cc" d="M6 1h5v5L8.86 3.85 4.7 8 4 7.3l4.15-4.16zM2 3h2v1H2v6h6V8h1v2a1 1 0 0 1-1 1H2a1 1 0 0 1-1-1V4a1 1 0 0 1 1-1"/></svg></span></a>. <i><a>The Post and Courier</a></i>. <a>Evening Post Industries</a>. Retrieved June 14, 2022.</li>
<li><b><a>^</a></b> Axelrod, Tal (August 5, 2021). <a>"SC state Rep. Russell Fry launches primary bid against Rice over impeachment <span class="lw">vote"<svg class="xi" width="12" height="12" viewBox="0 0 12 12"><path fill="#3366cc" d="M6 1h5v5L8.86 3.85 4.7 8 4 7.3l4.15-4.16zM2 3h2v1H2v6h6V8h1v2a1 1 0 0 1-1 1H2a1 1 0 0 1-1-1V4a1 1 0 0 1 1-1"/></svg></span></a>. <i><a>The Hill</a></i>. <a>Nexstar Media Group</a>. Retrieved June 14, 2022.</li>
<li><b><a>^</a></b> <a>Trump endorses GOP challenger to South Carolina Rep. Tom <span class="lw">Rice<svg class="xi" width="12" height="12" viewBox="0 0 12 12"><path fill="#3366cc" d="M6 1h5v5L8.86 3.85 4.7 8 4 7.3l4.15-4.16zM2 3h2v1H2v6h6V8h1v2a1 1 0 0 1-1 1H2a1 1 0 0 1-1-1V4a1 1 0 0 1 1-1"/></svg></span></a>, <i><a>The Hill</a></i>, Max Greenwood, February 1, 2022. Retrieved May 13, 2022.</li>
<li><b><a>^</a></b> Hansen, Victoria (June 14, 2022). <a>"Trump gets a split decision in South Carolina as Rice is beaten, while Mace <span class="lw">survives"<svg class="xi" width="12" height="12" viewBox="0 0 12 12"><path fill="#3366cc" d="M6 1h5v5L8.86 3.85 4.7 8 4 7.3l4.15-4.16zM2 3h2v1H2v6h6V8h1v2a1 1 0 0 1-1 1H2a1 1 0 0 1-1-1V4a1 1 0 0 1 1-1"/></svg></span></a>. <i><a>NPR</a></i>. Retrieved June 15, 2022.</li>
<li><b><a>^</a></b> James, Andrew (November 20, 2022). <a>" "Congressman-elect Fry named president of congressional freshman class" <span class="lw">"<svg class="xi" width="12" height="12" viewBox="0 0 12 12"><path fill="#3366cc" d="M6 1h5v5L8.86 3.85 4.7 8 4 7.3l4.15-4.16zM2 3h2v1H2v6h6V8h1v2a1 1 0 0 1-1 1H2a1 1 0 0 1-1-1V4a1 1 0 0 1 1-1"/></svg></span></a>. <i>WPDE-TV</i>. Retrieved November 20, 2022.</li>
<li><b><a>^</a></b> Staff, News (November 18, 2022). <a>" "Rep. Fry elected as president of congressional freshman class" <span class="lw">"<svg class="xi" width="12" height="12" viewBox="0 0 12 12"><path fill="#3366cc" d="M6 1h5v5L8.86 3.85 4.7 8 4 7.3l4.15-4.16zM2 3h2v1H2v6h6V8h1v2a1 1 0 0 1-1 1H2a1 1 0 0 1-1-1V4a1 1 0 0 1 1-1"/></svg></span></a>. <i>WMBF-TV</i>. Retrieved November 20, 2022. <span class="cserr"><code>{{cite news}}</code>: <code>|first=</code> has generic name (<a style="color:#b32424">help</a>)</span></li>
<li><b><a>^</a></b> <a>"Congressman Russell Fry to serve on House Judiciary <span class="lw">Committee"<svg class="xi" width="12" height="12" viewBox="0 0 12 12"><path fill="#3366cc" d="M6 1h5v5L8.86 3.85 4.7 8 4 7.3l4.15-4.16zM2 3h2v1H2v6h6V8h1v2a1 1 0 0 1-1 1H2a1 1 0 0 1-1-1V4a1 1 0 0 1 1-1"/></svg></span></a>. <a>WMBF-TV</a>. January 17, 2023. Retrieved January 17, 2023.</li>
<li><b><a>^</a></b> <a>"Caucus <span class="lw">Memberships"<svg class="xi" width="12" height="12" viewBox="0 0 12 12"><path fill="#3366cc" d="M6 1h5v5L8.86 3.85 4.7 8 4 7.3l4.15-4.16zM2 3h2v1H2v6h6V8h1v2a1 1 0 0 1-1 1H2a1 1 0 0 1-1-1V4a1 1 0 0 1 1-1"/></svg></span></a>. Congressional Western Caucus. Retrieved April 11, 2025.</li>
<li><b><a>^</a></b> <a>"H.Con.Res. 21: Directing the President, pursuant to section 5(c) of … -- House Vote #136 -- Mar 8, <span class="lw">2023"<svg class="xi" width="12" height="12" viewBox="0 0 12 12"><path fill="#3366cc" d="M6 1h5v5L8.86 3.85 4.7 8 4 7.3l4.15-4.16zM2 3h2v1H2v6h6V8h1v2a1 1 0 0 1-1 1H2a1 1 0 0 1-1-1V4a1 1 0 0 1 1-1"/></svg></span></a>. March 8, 2023.</li>
<li><b><a>^</a></b> <a>"House Votes Down Bill Directing Removal of Troops From <span class="lw">Syria"<svg class="xi" width="12" height="12" viewBox="0 0 12 12"><path fill="#3366cc" d="M6 1h5v5L8.86 3.85 4.7 8 4 7.3l4.15-4.16zM2 3h2v1H2v6h6V8h1v2a1 1 0 0 1-1 1H2a1 1 0 0 1-1-1V4a1 1 0 0 1 1-1"/></svg></span></a>. Associated Press. March 8, 2023.</li>
<li><b><a>^</a></b> <a>"House rejects Gaetz resolution to remove US troops from <span class="lw">Somalia"<svg class="xi" width="12" height="12" viewBox="0 0 12 12"><path fill="#3366cc" d="M6 1h5v5L8.86 3.85 4.7 8 4 7.3l4.15-4.16zM2 3h2v1H2v6h6V8h1v2a1 1 0 0 1-1 1H2a1 1 0 0 1-1-1V4a1 1 0 0 1 1-1"/></svg></span></a>. <i>Roll Call</i>. April 27, 2023.</li>
<li><b><a>^</a></b> <a>"H.Con.Res. 30: Directing the President, pursuant to section 5(c) of … -- House Vote #201 -- Apr 27, <span class="lw">2023"<svg class="xi" width="12" height="12" viewBox="0 0 12 12"><path fill="#3366cc" d="M6 1h5v5L8.86 3.85 4.7 8 4 7.3l4.15-4.16zM2 3h2v1H2v6h6V8h1v2a1 1 0 0 1-1 1H2a1 1 0 0 1-1-1V4a1 1 0 0 1 1-1"/></svg></span></a>. <i>GovTrack.us</i>.</li>
<li><b><a>^</a></b> <a>"H.R. 6090: Antisemitism Awareness Act of 2023 -- House Vote #172 -- May 1, <span class="lw">2024"<svg class="xi" width="12" height="12" viewBox="0 0 12 12"><path fill="#3366cc" d="M6 1h5v5L8.86 3.85 4.7 8 4 7.3l4.15-4.16zM2 3h2v1H2v6h6V8h1v2a1 1 0 0 1-1 1H2a1 1 0 0 1-1-1V4a1 1 0 0 1 1-1"/></svg></span></a>. <i>GovTrack.us</i>. Retrieved May 6, 2024.</li>
<li><b><a>^</a></b> <a>"H.R.6090 - 118th Congress (2023-2024): Antisemitism Awareness Act of <span class="lw">2023"<svg class="xi" width="12" height="12" viewBox="0 0 12 12"><path fill="#3366cc" d="M6 1h5v5L8.86 3.85 4.7 8 4 7.3l4.15-4.16zM2 3h2v1H2v6h6V8h1v2a1 1 0 0 1-1 1H2a1 1 0 0 1-1-1V4a1 1 0 0 1 1-1"/></svg></span></a>. <i>Congress.gov</i>. Retrieved May 6, 2024.</li>
<li><b><a>^</a></b> <a>"ACLU Statement on Senate Introduction of 'Anti-Semitism Awareness Act' <span class="lw">"<svg class="xi" width="12" height="12" viewBox="0 0 12 12"><path fill="#3366cc" d="M6 1h5v5L8.86 3.85 4.7 8 4 7.3l4.15-4.16zM2 3h2v1H2v6h6V8h1v2a1 1 0 0 1-1 1H2a1 1 0 0 1-1-1V4a1 1 0 0 1 1-1"/></svg></span></a>. <i>American Civil Liberties Union</i>. Retrieved May 6, 2024.</li>
<li><b><a>^</a></b> Alonso, Johanna. <a>"ACLU Warns Against Adopting Antisemitism <span class="lw">Definition"<svg class="xi" width="12" height="12" viewBox="0 0 12 12"><path fill="#3366cc" d="M6 1h5v5L8.86 3.85 4.7 8 4 7.3l4.15-4.16zM2 3h2v1H2v6h6V8h1v2a1 1 0 0 1-1 1H2a1 1 0 0 1-1-1V4a1 1 0 0 1 1-1"/></svg></span></a>. <i>Inside Higher Ed</i>. Retrieved May 6, 2024.</li>
<li><b><a>^</a></b> Demirjian, Karoun (October 25, 2023). <a>"House Declares Solidarity With Israel in First Legislation Under New <span class="lw">Speaker"<svg class="xi" width="12" height="12" viewBox="0 0 12 12"><path fill="#3366cc" d="M6 1h5v5L8.86 3.85 4.7 8 4 7.3l4.15-4.16zM2 3h2v1H2v6h6V8h1v2a1 1 0 0 1-1 1H2a1 1 0 0 1-1-1V4a1 1 0 0 1 1-1"/></svg></span></a>. <i>The New York Times</i>. <a>ISSN</a> <a><span class="lw">0362-4331<svg class="xi" width="12" height="12" viewBox="0 0 12 12"><path fill="#3366cc" d="M6 1h5v5L8.86 3.85 4.7 8 4 7.3l4.15-4.16zM2 3h2v1H2v6h6V8h1v2a1 1 0 0 1-1 1H2a1 1 0 0 1-1-1V4a1 1 0 0 1 1-1"/></svg></span></a>. Retrieved October 30, 2023.</li>
<li><b><a>^</a></b> Washington, U. S. Capitol Room H154; p:225-7000, DC 20515-6601 (October 25, 2023). <a>"Roll Call 528 Roll Call 528, Bill Number: H. Res. 771, 118th Congress, 1st <span class="lw">Session"<svg class="xi" width="12" height="12" viewBox="0 0 12 12"><path fill="#3366cc" d="M6 1h5v5L8.86 3.85 4.7 8 4 7.3l4.15-4.16zM2 3h2v1H2v6h6V8h1v2a1 1 0 0 1-1 1H2a1 1 0 0 1-1-1V4a1 1 0 0 1 1-1"/></svg></span></a>. <i>Office of the Clerk, U.S. House of Representatives</i>. Retrieved October 30, 2023.</li>
<li><b><a>^</a></b> <a>"SC - Election Results - House Dist 106 <span class="lw">Runoff"<svg class="xi" width="12" height="12" viewBox="0 0 12 12"><path fill="#3366cc" d="M6 1h5v5L8.86 3.85 4.7 8 4 7.3l4.15-4.16zM2 3h2v1H2v6h6V8h1v2a1 1 0 0 1-1 1H2a1 1 0 0 1-1-1V4a1 1 0 0 1 1-1"/></svg></span></a>. <i>www.enr-scvotes.org</i>. Retrieved June 3, 2020.</li>
<li><b><a>^</a></b> <a>"SC - Election Results - House Dist 106 <span class="lw">General"<svg class="xi" width="12" height="12" viewBox="0 0 12 12"><path fill="#3366cc" d="M6 1h5v5L8.86 3.85 4.7 8 4 7.3l4.15-4.16zM2 3h2v1H2v6h6V8h1v2a1 1 0 0 1-1 1H2a1 1 0 0 1-1-1V4a1 1 0 0 1 1-1"/></svg></span></a>. <i>www.enr-scvotes.org</i>. Retrieved June 3, 2020.</li>
<li><b><a>^</a></b> <a>"South Carolina 106th District State House Results: Russell Fry <span class="lw">Wins"<svg class="xi" width="12" height="12" viewBox="0 0 12 12"><path fill="#3366cc" d="M6 1h5v5L8.86 3.85 4.7 8 4 7.3l4.15-4.16zM2 3h2v1H2v6h6V8h1v2a1 1 0 0 1-1 1H2a1 1 0 0 1-1-1V4a1 1 0 0 1 1-1"/></svg></span></a>. <i>The New York Times</i>. August 1, 2017. Retrieved June 3, 2020.</li>
<li><b><a>^</a></b> <a>"Election Night Reporting - SC House Dist 106 <span class="lw">General"<svg class="xi" width="12" height="12" viewBox="0 0 12 12"><path fill="#3366cc" d="M6 1h5v5L8.86 3.85 4.7 8 4 7.3l4.15-4.16zM2 3h2v1H2v6h6V8h1v2a1 1 0 0 1-1 1H2a1 1 0 0 1-1-1V4a1 1 0 0 1 1-1"/></svg></span></a>. <i>www.enr-scvotes.org</i>. Retrieved June 3, 2020.</li>
<li><b><a>^</a></b> <a>"2024 STATEWIDE GENERAL ELECTION November 5, <span class="lw">2024"<svg class="xi" width="12" height="12" viewBox="0 0 12 12"><path fill="#3366cc" d="M6 1h5v5L8.86 3.85 4.7 8 4 7.3l4.15-4.16zM2 3h2v1H2v6h6V8h1v2a1 1 0 0 1-1 1H2a1 1 0 0 1-1-1V4a1 1 0 0 1 1-1"/></svg></span></a>. South Carolina Election Commission. Retrieved February 3, 2025.</li>
<li><b><a>^</a></b> <a>"Religious affiliation of members of 118th Congress"</a><i class="pdf"></i> (PDF). <i><a>Pew Research Center</a></i>. <a>Archived</a><i class="pdf"></i> (PDF) from the original on March 16, 2023.</li>
</ol>
<h2>External links<span class="ed">[ <a>edit</a> ]</span></h2>
<ul class="bul extl">
<li><a>Congressman Russell <span class="lw">Fry<svg class="xi" width="12" height="12" viewBox="0 0 12 12"><path fill="#3366cc" d="M6 1h5v5L8.86 3.85 4.7 8 4 7.3l4.15-4.16zM2 3h2v1H2v6h6V8h1v2a1 1 0 0 1-1 1H2a1 1 0 0 1-1-1V4a1 1 0 0 1 1-1"/></svg></span></a> official U.S. House website</li>
<li><a>Russell Fry for <span class="lw">Congress<svg class="xi" width="12" height="12" viewBox="0 0 12 12"><path fill="#3366cc" d="M6 1h5v5L8.86 3.85 4.7 8 4 7.3l4.15-4.16zM2 3h2v1H2v6h6V8h1v2a1 1 0 0 1-1 1H2a1 1 0 0 1-1-1V4a1 1 0 0 1 1-1"/></svg></span></a> campaign website</li>
<li><a><span class="lw">Biography<svg class="xi" width="12" height="12" viewBox="0 0 12 12"><path fill="#3366cc" d="M6 1h5v5L8.86 3.85 4.7 8 4 7.3l4.15-4.16zM2 3h2v1H2v6h6V8h1v2a1 1 0 0 1-1 1H2a1 1 0 0 1-1-1V4a1 1 0 0 1 1-1"/></svg></span></a> at the <i><a>Biographical Directory of the United States Congress</a></i></li>
<li><a>Financial information (federal <span class="lw">office)<svg class="xi" width="12" height="12" viewBox="0 0 12 12"><path fill="#3366cc" d="M6 1h5v5L8.86 3.85 4.7 8 4 7.3l4.15-4.16zM2 3h2v1H2v6h6V8h1v2a1 1 0 0 1-1 1H2a1 1 0 0 1-1-1V4a1 1 0 0 1 1-1"/></svg></span></a> at the <a>Federal Election Commission</a></li>
<li><a>Legislation <span class="lw">sponsored<svg class="xi" width="12" height="12" viewBox="0 0 12 12"><path fill="#3366cc" d="M6 1h5v5L8.86 3.85 4.7 8 4 7.3l4.15-4.16zM2 3h2v1H2v6h6V8h1v2a1 1 0 0 1-1 1H2a1 1 0 0 1-1-1V4a1 1 0 0 1 1-1"/></svg></span></a> at the <a>Library of Congress</a></li>
<li><a><span class="lw">Profile<svg class="xi" width="12" height="12" viewBox="0 0 12 12"><path fill="#3366cc" d="M6 1h5v5L8.86 3.85 4.7 8 4 7.3l4.15-4.16zM2 3h2v1H2v6h6V8h1v2a1 1 0 0 1-1 1H2a1 1 0 0 1-1-1V4a1 1 0 0 1 1-1"/></svg></span></a> at <a>Vote Smart</a></li>
<li><a><span class="lw">Appearances<svg class="xi" width="12" height="12" viewBox="0 0 12 12"><path fill="#3366cc" d="M6 1h5v5L8.86 3.85 4.7 8 4 7.3l4.15-4.16zM2 3h2v1H2v6h6V8h1v2a1 1 0 0 1-1 1H2a1 1 0 0 1-1-1V4a1 1 0 0 1 1-1"/></svg></span></a> on <a>C-SPAN</a></li>
</ul>
</div>
<div class="sbox" style="left:334px;top:4439px;width:772px;height:182px">
  <div class="A" style="left:0;top:0;width:770px;height:5px;background:#c8ccd1"></div>
  <div class="A" style="left:0;top:5px;width:770px;height:26px;background:#eaecf0;border-bottom:1px solid #a2a9b1"></div>
  <div class="sc" style="left:0;width:770px;top:8px;font-weight:bold"><a>U.S. House of Representatives</a></div>
  <div class="A" style="left:0;top:32px;width:770px;height:69px;background:#f8f9fa"></div>
  <div class="A" style="left:231px;top:32px;width:1px;height:69px;background:#a2a9b1"></div>
  <div class="A" style="left:539px;top:32px;width:1px;height:69px;background:#a2a9b1"></div>
  <div class="sc" style="left:0;width:231px;top:46px">Preceded by</div>
  <div class="sc" style="left:0;width:231px;top:67px;font-weight:bold"><a>Tom Rice</a></div>
  <div class="sc" style="left:231px;width:308px;top:35px;font-weight:bold">Member of the <a>U.S. House of Representatives</a></div>
  <div class="sc" style="left:231px;width:308px;top:56px;font-weight:bold">from <a>South Carolina's 7th congressional district</a></div>
  <div class="sc" style="left:231px;width:308px;top:77px">2023–present</div>
  <div class="sc" style="left:539px;width:231px;top:56px;font-weight:bold">Incumbent</div>
  <div class="A" style="left:0;top:101px;width:770px;height:4px;background:#ccffcc"></div>
  <div class="A" style="left:0;top:105px;width:770px;height:27px;background:#eaecf0;border-bottom:1px solid #a2a9b1"></div>
  <div class="sc" style="left:0;width:770px;top:109px;font-weight:bold"><a>U.S. order of precedence</a> (ceremonial)</div>
  <div class="A" style="left:0;top:133px;width:770px;height:47px;background:#f8f9fa"></div>
  <div class="A" style="left:231px;top:133px;width:1px;height:47px;background:#a2a9b1"></div>
  <div class="A" style="left:539px;top:133px;width:1px;height:47px;background:#a2a9b1"></div>
  <div class="sc" style="left:0;width:231px;top:136px">Preceded by</div>
  <div class="sc" style="left:0;width:231px;top:157px;font-weight:bold"><a>Maxwell Frost</a></div>
  <div class="sc" style="left:231px;width:308px;top:136px;font-weight:bold"><a>United States representatives by seniority</a></div>
  <div class="sc" style="left:231px;width:308px;top:157px">313th</div>
  <div class="sc" style="left:539px;width:231px;top:136px">Succeeded by</div>
  <div class="sc" style="left:539px;width:231px;top:157px;font-weight:bold"><a>Robert Garcia</a></div>
</div>
<div class="A" style="left:264px;top:4635px;width:912px;height:105px;border:1px solid #a2a9b1;background:#fff"></div>
<div class="A" style="left:264px;top:4670px;width:912px;height:1px;background:#a2a9b1"></div>
<div class="A" style="left:264px;top:4705px;width:912px;height:1px;background:#a2a9b1"></div>
<div class="A nvt" style="left:268px;top:4639px;width:904px;height:28px;background:#ccccff"></div>
<div class="A nvt" style="left:268px;top:4674px;width:904px;height:28px;background:#fff;border:1px solid #e6d28c"></div>
<div class="A nvt" style="left:268px;top:4709px;width:904px;height:28px;background:#ccccff"></div>
<div class="vte" style="left:281px;top:4646px;color:#3366cc">V<b>•</b>T<b>•</b>E</div>
<div class="vte" style="left:281px;top:4681px;color:#202122">V<b>•</b>T<b>•</b>E</div>
<div class="vte" style="left:281px;top:4716px;color:#3366cc">V<b>•</b>T<b>•</b>E</div>
<div class="nvtt" style="top:4643px"><a>South Carolina's current delegation</a> to the <a>current United States Congress</a></div>
<div class="nvtt" style="top:4678px"><a>Current United States representatives</a></div>
<div class="nvtt" style="top:4713px"><a>South Carolina</a>'s delegation(s) to the 118th–present <a>United States Congress</a> (ordered by seniority)</div>
<div class="show" style="top:4644px">[<a>show</a>]</div>
<div class="show" style="top:4679px">[show]</div>
<div class="show" style="top:4714px">[<a>show</a>]</div>
<div class="A" style="left:264px;top:4757px;width:912px;height:116px;border:1px solid #a2a9b1;background:#f8f9fa"></div>
<div class="catbox"><a>Categories</a>: <span class="ci f"><a>1985 births</a></span><span class="ci"><a>21st-century members of the South Carolina General Assembly</a></span><span class="ci"><a>21st-century United States representatives</a></span><span class="ci"><a>Baptists from South Carolina</a></span><span class="ci"><a>Living people</a></span><span class="ci"><a>People from Horry County, South Carolina</a></span><span class="ci"><a>Republican Party members of the South Carolina House of Representatives</a></span><span class="ci"><a>Republican Party United States representatives from South Carolina</a></span><span class="ci"><a>University of South Carolina alumni</a></span> </div>
<div class="A" style="left:44px;top:4923px;width:1352px;height:1px;background:#a2a9b1"></div>
<div class="ft" style="top:4940.5px">This page was last edited on 11 February 2026, at 19:06<span style="font-family:'Liberation Sans'">&nbsp;(UTC)</span>.</div>
<div class="ft" style="top:4969.5px;width:1352px;white-space:normal;line-height:17.6px">Text is available under the <a>Creative Commons Attribution-ShareAlike 4.0 License</a>; additional terms may apply. By using this site, you agree to the <a>Terms of Use</a> and <a>Privacy Policy</a>. Wikipedia® is a registered trademark of the <a>Wikimedia Foundation, Inc.</a>, a non-profit organization.</div>
<div class="ft lk" style="top:5019.5px"><a>Privacy policy</a><a>About Wikipedia</a><a>Disclaimers</a><a>Contact Wikipedia</a><a>Legal &amp; safety contacts</a><a>Code of Conduct</a><a>Developers</a><a>Statistics</a><a>Cookie statement</a><a>Mobile view</a></div>
<div class="badge" style="left:1182px;top:5017px;width:103px;height:44px">
  <svg class="A" style="left:9px;top:10px" width="24" height="24" viewBox="0 0 24 24"><path d="M4.5 9.5 A8.5 8.5 0 1 0 19.5 9.5" fill="none" stroke="#069" stroke-width="2.6"/><path d="M8 11 A4.6 4.6 0 1 0 16 11 L12 15z" fill="#396"/><circle cx="12" cy="6" r="3.2" fill="#900"/></svg>
  <div class="A" style="left:36px;top:9px;font-size:5px;color:#72777d;width:60px;text-align:center">A</div>
  <div class="A" style="left:36px;top:15px;font-size:9.5px;font-weight:bold;color:#54595d;letter-spacing:0.2px">WIKIMEDIA</div>
  <div class="A" style="left:36px;top:26px;font-size:7px;color:#72777d;width:60px;text-align:center">project</div>
</div>
<div class="badge" style="left:1290px;top:5017px;width:106px;height:44px">
  <svg class="A" style="left:9px;top:9px" width="26" height="26" viewBox="0 0 26 26"><g transform="translate(13 13)"><g fill="#f08a3c"><ellipse rx="2.6" ry="5" transform="rotate(0) translate(0 -7.5)"/><ellipse rx="2.6" ry="5" transform="rotate(30) translate(0 -7.5)"/><ellipse rx="2.6" ry="5" transform="rotate(60) translate(0 -7.5)"/><ellipse rx="2.6" ry="5" transform="rotate(90) translate(0 -7.5)"/><ellipse rx="2.6" ry="5" transform="rotate(120) translate(0 -7.5)"/><ellipse rx="2.6" ry="5" transform="rotate(150) translate(0 -7.5)"/><ellipse rx="2.6" ry="5" transform="rotate(180) translate(0 -7.5)"/><ellipse rx="2.6" ry="5" transform="rotate(210) translate(0 -7.5)"/><ellipse rx="2.6" ry="5" transform="rotate(240) translate(0 -7.5)"/><ellipse rx="2.6" ry="5" transform="rotate(270) translate(0 -7.5)"/><ellipse rx="2.6" ry="5" transform="rotate(300) translate(0 -7.5)"/><ellipse rx="2.6" ry="5" transform="rotate(330) translate(0 -7.5)"/></g><circle r="7.5" fill="#e95f6d"/><circle r="4.2" fill="#fff"/></g></svg>
  <div class="A" style="left:40px;top:10px;font-size:9.5px;color:#202122;line-height:11px">Powered by<br><b style="font-size:10.5px">MediaWiki</b></div>
</div>
</body></html>
